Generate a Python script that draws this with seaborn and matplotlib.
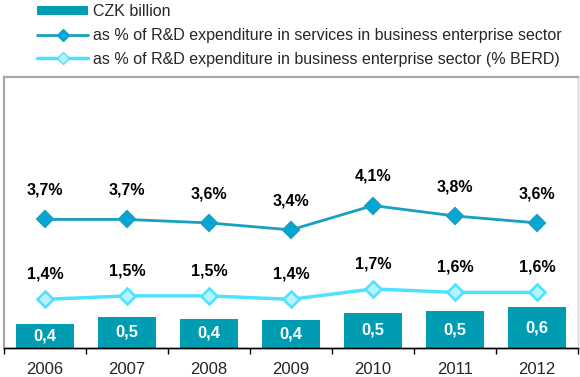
import matplotlib
matplotlib.use("Agg")
import matplotlib.pyplot as plt
import matplotlib.patches as mpatches
import matplotlib.lines as mlines
import seaborn as sns
import pandas as pd

years = ['2006', '2007', '2008', '2009', '2010', '2011', '2012']
czk_billion = [0.36, 0.46, 0.43, 0.41, 0.52, 0.54, 0.60]
pct_services = [3.7, 3.7, 3.6, 3.4, 4.1, 3.8, 3.6]
pct_berd = [1.4, 1.5, 1.5, 1.4, 1.7, 1.6, 1.6]

bar_color = '#009CB2'
line1_color = '#17A0C0'
line1_face = '#00A6D6'
line2_color = '#4FE2FF'
line2_face = '#B6F3FF'

sns.set_style("white")
plt.rcParams['font.family'] = ['Liberation Sans', 'DejaVu Sans']

df = pd.DataFrame({'year': years, 'czk': czk_billion,
                   'serv': pct_services, 'berd': pct_berd})

fig = plt.figure(figsize=(5.8, 3.77), dpi=100)
ax = fig.add_axes([4/580, 29/377, 574/580, 271/377])

sns.barplot(data=df, x='year', y='czk', ax=ax, color=bar_color, width=0.71,
            saturation=1, edgecolor='none')
for patch, v in zip(ax.patches, czk_billion):
    ax.text(patch.get_x() + patch.get_width()/2, v/2, f'{v:.1f}'.replace('.', ','),
            ha='center', va='center', color='white', fontsize=12, fontweight='bold')
ax.set_ylim(0, 4.0)

ax2 = ax.twinx()
sns.pointplot(data=df, x='year', y='serv', ax=ax2, color=line1_color, markers='D',
              markersize=8.5, linewidth=2, markerfacecolor=line1_face,
              markeredgecolor=line1_color)
sns.pointplot(data=df, x='year', y='berd', ax=ax2, color=line2_color, markers='D',
              markersize=8.5, linewidth=2.5, markerfacecolor=line2_face,
              markeredgecolor=line2_color)
ax2.set_ylim(0, 7.8)
for i, v in enumerate(pct_services):
    ax2.annotate(f'{v:.1f}%'.replace('.', ','), (i, v), xytext=(0, 21),
                 textcoords='offset points', ha='center', va='center',
                 fontsize=11.5, fontweight='bold', color='black')
for i, v in enumerate(pct_berd):
    ax2.annotate(f'{v:.1f}%'.replace('.', ','), (i, v), xytext=(0, 18),
                 textcoords='offset points', ha='center', va='center',
                 fontsize=11.5, fontweight='bold', color='black')

for a in (ax, ax2):
    a.set_xlim(-0.5, len(years) - 0.5)
    a.set_ylabel('')
    a.set_yticks([])
ax.set_xlabel('')
ax.set_xticks(range(len(years)))
ax.set_xticklabels(years, fontsize=12)
ax.tick_params(axis='x', which='major', length=0, pad=10)
ax.set_xticks([i - 0.5 for i in range(len(years) + 1)], minor=True)
ax.tick_params(axis='x', which='minor', length=4, width=1, color='black', bottom=True)
ax2.set_xlabel('')

for a in (ax, ax2):
    a.spines['bottom'].set_color('black')
    a.spines['bottom'].set_linewidth(1)
    a.spines['top'].set_color('#A8A8A8')
    a.spines['top'].set_linewidth(1.5)
    a.spines['left'].set_color('#A8A8A8')
    a.spines['left'].set_linewidth(1.5)
    a.spines['right'].set_color('#D8D8D8')
    a.spines['right'].set_linewidth(1)

handles = [
    mpatches.Patch(facecolor=bar_color, edgecolor='none', label='CZK billion'),
    mlines.Line2D([], [], color=line1_color, lw=2, marker='D', markersize=6,
                  markerfacecolor=line1_face, markeredgecolor=line1_color,
                  label='as % of R&D expenditure in services in business enterprise sector'),
    mlines.Line2D([], [], color=line2_color, lw=2.5, marker='D', markersize=6,
                  markerfacecolor=line2_face, markeredgecolor=line2_color,
                  label='as % of R&D expenditure in business enterprise sector (% BERD)'),
]
fig.legend(handles=handles, loc='upper left', bbox_to_anchor=(37/580, 1 - 4/377),
           frameon=False, fontsize=11.5, handlelength=3.2, handleheight=0.5,
           handletextpad=0.3, labelspacing=0.55, borderpad=0, borderaxespad=0)

fig.savefig('out.png', dpi=100)
